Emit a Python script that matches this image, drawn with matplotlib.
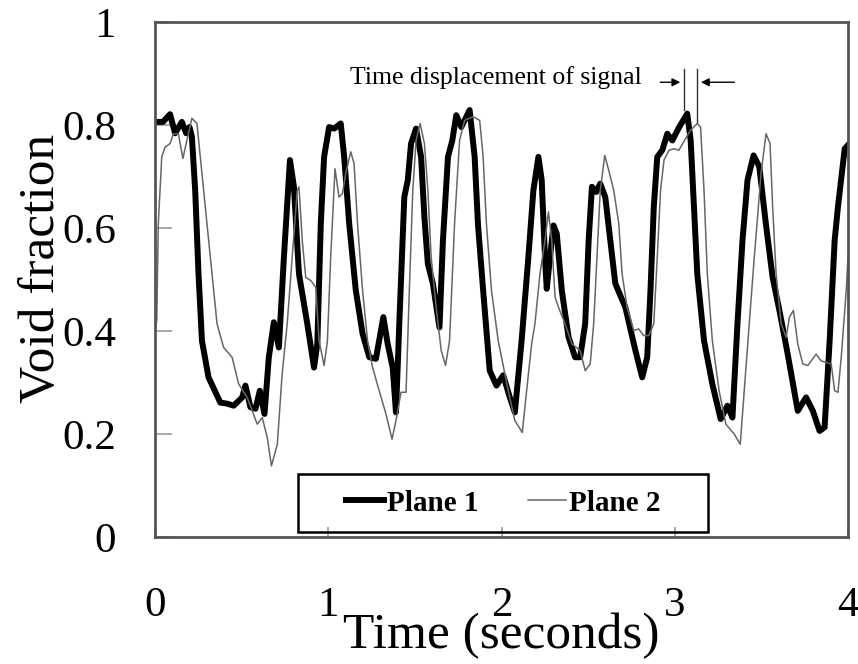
import matplotlib
matplotlib.use('Agg')
import matplotlib.pyplot as plt
from matplotlib.patches import Rectangle

plt.rcParams['font.family'] = ['Liberation Serif', 'DejaVu Serif']

# plane 1 signal (thick line)
t_plane1 = [0.010, 0.046, 0.087, 0.116, 0.155, 0.180, 0.199, 0.213, 0.232, 0.251,
            0.271, 0.309, 0.377, 0.416, 0.454, 0.503, 0.522, 0.551, 0.580, 0.605,
            0.632, 0.657, 0.686, 0.715, 0.744, 0.779, 0.802, 0.831, 0.879, 0.918,
            0.937, 0.957, 0.976, 1.005, 1.034, 1.072, 1.092, 1.121, 1.159, 1.198,
            1.237, 1.275, 1.318, 1.343, 1.372, 1.391, 1.410, 1.439, 1.459, 1.478,
            1.507, 1.536, 1.555, 1.575, 1.604, 1.642, 1.662, 1.691, 1.716, 1.739,
            1.768, 1.816, 1.845, 1.864, 1.894, 1.932, 1.971, 2.010, 2.048, 2.077,
            2.116, 2.155, 2.184, 2.213, 2.232, 2.251, 2.261, 2.280, 2.300, 2.319,
            2.348, 2.387, 2.425, 2.454, 2.483, 2.503, 2.522, 2.547, 2.570, 2.599,
            2.628, 2.657, 2.715, 2.773, 2.812, 2.841, 2.860, 2.879, 2.899, 2.928,
            2.957, 2.986, 3.024, 3.072, 3.092, 3.111, 3.130, 3.169, 3.217, 3.265,
            3.304, 3.333, 3.362, 3.391, 3.420, 3.455, 3.488, 3.526, 3.565, 3.604,
            3.652, 3.710, 3.758, 3.797, 3.836, 3.865, 3.894, 3.923, 3.942, 3.981,
            4.000]
v_plane1 = [0.806, 0.806, 0.821, 0.784, 0.806, 0.784, 0.796, 0.777, 0.673, 0.512,
            0.381, 0.310, 0.261, 0.259, 0.255, 0.271, 0.294, 0.252, 0.249, 0.284,
            0.239, 0.349, 0.417, 0.368, 0.543, 0.732, 0.680, 0.511, 0.414, 0.329,
            0.375, 0.609, 0.738, 0.796, 0.793, 0.803, 0.738, 0.608, 0.479, 0.395,
            0.349, 0.346, 0.427, 0.375, 0.329, 0.242, 0.414, 0.660, 0.693, 0.764,
            0.793, 0.738, 0.621, 0.530, 0.492, 0.407, 0.576, 0.738, 0.770, 0.819,
            0.796, 0.829, 0.738, 0.608, 0.479, 0.323, 0.294, 0.314, 0.271, 0.242,
            0.381, 0.543, 0.673, 0.738, 0.693, 0.543, 0.482, 0.543, 0.605, 0.589,
            0.479, 0.388, 0.349, 0.349, 0.414, 0.576, 0.680, 0.670, 0.686, 0.660,
            0.576, 0.492, 0.446, 0.362, 0.310, 0.349, 0.479, 0.641, 0.738, 0.751,
            0.783, 0.770, 0.795, 0.822, 0.770, 0.641, 0.511, 0.381, 0.297, 0.229,
            0.255, 0.232, 0.414, 0.576, 0.693, 0.741, 0.719, 0.608, 0.504, 0.440,
            0.355, 0.245, 0.271, 0.245, 0.206, 0.213, 0.381, 0.576, 0.641, 0.754,
            0.761]

# plane 2 signal (thin line)
t_plane2 = [0.000, 0.010, 0.019, 0.039, 0.058, 0.087, 0.106, 0.135, 0.161, 0.184,
            0.213, 0.242, 0.271, 0.300, 0.329, 0.358, 0.396, 0.445, 0.483, 0.532,
            0.561, 0.590, 0.619, 0.648, 0.672, 0.706, 0.734, 0.763, 0.792, 0.821,
            0.831, 0.850, 0.870, 0.899, 0.928, 0.947, 0.976, 0.995, 1.014, 1.039,
            1.062, 1.082, 1.101, 1.130, 1.149, 1.169, 1.198, 1.227, 1.256, 1.294,
            1.333, 1.368, 1.391, 1.420, 1.449, 1.468, 1.488, 1.507, 1.530, 1.555,
            1.575, 1.594, 1.623, 1.652, 1.677, 1.700, 1.729, 1.758, 1.787, 1.836,
            1.874, 1.894, 1.913, 1.942, 1.981, 2.019, 2.039, 2.077, 2.120, 2.145,
            2.174, 2.193, 2.222, 2.251, 2.271, 2.290, 2.309, 2.329, 2.367, 2.406,
            2.454, 2.483, 2.512, 2.532, 2.551, 2.570, 2.596, 2.619, 2.648, 2.677,
            2.696, 2.725, 2.763, 2.792, 2.821, 2.850, 2.879, 2.899, 2.918, 2.938,
            2.967, 2.996, 3.024, 3.063, 3.092, 3.130, 3.149, 3.169, 3.188, 3.217,
            3.256, 3.295, 3.343, 3.378, 3.401, 3.430, 3.459, 3.478, 3.498, 3.527,
            3.550, 3.565, 3.585, 3.614, 3.643, 3.662, 3.685, 3.710, 3.739, 3.768,
            3.816, 3.845, 3.874, 3.903, 3.923, 3.942, 3.961, 3.990, 4.000]
v_plane2 = [0.400, 0.420, 0.608, 0.738, 0.757, 0.764, 0.783, 0.783, 0.735, 0.770,
            0.813, 0.803, 0.706, 0.608, 0.511, 0.414, 0.368, 0.349, 0.297, 0.271,
            0.245, 0.219, 0.232, 0.193, 0.138, 0.180, 0.317, 0.414, 0.543, 0.673,
            0.680, 0.576, 0.504, 0.498, 0.485, 0.381, 0.333, 0.380, 0.543, 0.715,
            0.660, 0.667, 0.706, 0.748, 0.725, 0.608, 0.479, 0.381, 0.329, 0.284,
            0.239, 0.190, 0.226, 0.281, 0.281, 0.479, 0.673, 0.770, 0.803, 0.764,
            0.673, 0.543, 0.446, 0.362, 0.333, 0.381, 0.608, 0.770, 0.809, 0.816,
            0.809, 0.738, 0.608, 0.479, 0.381, 0.317, 0.284, 0.226, 0.203, 0.284,
            0.375, 0.414, 0.511, 0.576, 0.631, 0.576, 0.466, 0.446, 0.414, 0.375,
            0.362, 0.323, 0.336, 0.414, 0.543, 0.673, 0.741, 0.712, 0.673, 0.608,
            0.511, 0.446, 0.401, 0.404, 0.391, 0.391, 0.414, 0.543, 0.673, 0.732,
            0.751, 0.754, 0.751, 0.774, 0.790, 0.803, 0.796, 0.673, 0.511, 0.381,
            0.284, 0.219, 0.200, 0.180, 0.284, 0.414, 0.543, 0.621, 0.706, 0.783,
            0.764, 0.641, 0.511, 0.414, 0.388, 0.427, 0.440, 0.375, 0.336, 0.333,
            0.355, 0.342, 0.339, 0.336, 0.284, 0.281, 0.349, 0.479, 0.543]

x_ticks = [0, 1, 2, 3, 4]
y_ticks = [0, 0.2, 0.4, 0.6, 0.8, 1]
y_ticklabels = ['0', '0.2', '0.4', '0.6', '0.8', '1']

# displacement marker: plane 1 peak and plane 2 peak
t_peak1, v_peak1 = 3.053, 0.830
t_peak2, v_peak2 = 3.130, 0.805

fig = plt.figure(figsize=(8.58, 6.64), dpi=100)
ax = fig.add_axes([155/858, 1 - 537/664, 693/858, 515/664])

ax.plot(t_plane1, v_plane1, color='black', lw=4.3, solid_joinstyle='round', label='Plane 1')
ax.plot(t_plane2, v_plane2, color='#666666', lw=1.1, label='Plane 2')

ax.set_xlim(0, 4)
ax.set_ylim(0, 1)
ax.set_xticks(x_ticks)
ax.set_yticks(y_ticks)
ax.set_yticklabels(y_ticklabels)
ax.tick_params(axis='both', direction='in', labelsize=31, color='#999999', width=1.2)
ax.tick_params(axis='y', length=12, pad=28)
ax.tick_params(axis='x', length=7, pad=36)
for s in ax.spines.values():
    s.set_color('#555555')
    s.set_linewidth(2)

ax.set_xlabel('Time (seconds)', fontsize=37, labelpad=-9)
ax.set_ylabel('Void fraction', fontsize=37)
ax.yaxis.set_label_coords(-0.13, 0.522)

# annotation
ax.text(2.81, 0.893, 'Time displacement of signal', fontsize=18.5, ha='right', va='center')
ax.plot([t_peak1, t_peak1], [0.909, v_peak1], color='#333333', lw=1)
ax.plot([t_peak2, t_peak2], [0.909, v_peak2], color='#333333', lw=1)
ax.annotate('', xy=(t_peak1 - 0.005, 0.883), xytext=(2.90, 0.883),
            arrowprops=dict(arrowstyle='-|>', color='black', lw=1, mutation_scale=12))
ax.annotate('', xy=(t_peak2 + 0.005, 0.883), xytext=(3.36, 0.883),
            arrowprops=dict(arrowstyle='-|>', color='black', lw=1, mutation_scale=12))

# legend without its own frame; the wider box is drawn separately
leg = ax.legend(loc='center', bbox_to_anchor=(0.502, 0.066), ncol=2,
                prop={'weight': 'bold', 'size': 21}, frameon=False,
                handlelength=1.3, handletextpad=0.1, columnspacing=1.7,
                borderpad=0.3, borderaxespad=0)
ax.add_patch(Rectangle((0.206, 0.01), 0.592, 0.112, transform=ax.transAxes,
                       fill=False, edgecolor='black', lw=1.8, zorder=6))

fig.savefig('out.png', dpi=100)
